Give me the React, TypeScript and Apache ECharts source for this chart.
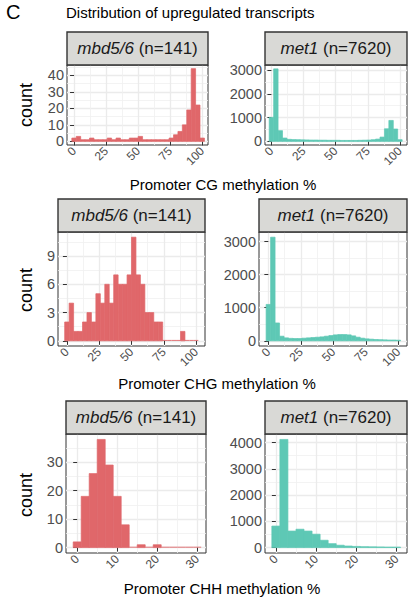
import React, { useEffect, useRef } from "react";
import * as echarts from "echarts";

const FONT = "'Liberation Sans', Arial, Helvetica, sans-serif";
const RED = "#E0676A";
const TEAL = "#5EC8B5";

// ---- bins ----
const pctBinCenters = [
  0, 3.448, 6.897, 10.345, 13.793, 17.241, 20.69, 24.138, 27.586, 31.034,
  34.483, 37.931, 41.379, 44.828, 48.276, 51.724, 55.172, 58.621, 62.069, 65.517,
  68.966, 72.414, 75.862, 79.31, 82.759, 86.207, 89.655, 93.103, 96.552, 100,
];
const pctBinWidth = 3.448;
const chhBinCenters = [0, 2, 4, 6, 8, 10, 12, 14, 16, 18, 20, 22, 24, 26, 28, 30];
const chhBinWidth = 2;

// ---- counts ----
const mbdCG = [2, 3, 1, 1, 2, 1, 1, 1, 2, 1, 2, 1, 1, 2, 2, 3, 1, 1, 1, 1, 1, 1, 2, 4, 6, 10, 19, 44, 22, 2];
const met1CG = [1010, 3050, 450, 140, 85, 75, 70, 65, 60, 55, 55, 50, 50, 45, 45, 45, 40, 40, 40, 40, 45, 50, 55, 70, 95, 180, 530, 880, 520, 70];
const mbdCHG = [2, 4, 1, 1, 2, 3, 2, 5, 4, 6, 4, 7, 6, 6, 7, 11, 7, 6, 3, 3, 2, 2, 0, 0, 0, 0, 1, 0, 0, 0];
const met1CHG = [1100, 3130, 540, 140, 90, 75, 70, 70, 80, 90, 100, 110, 120, 140, 160, 180, 190, 190, 180, 150, 110, 80, 60, 50, 40, 35, 30, 25, 25, 20];
const mbdCHH = [2, 18, 26, 38, 29, 18, 8, 0, 1, 0, 1, 0, 0, 0, 0, 0];
const met1CHH = [820, 4120, 630, 700, 630, 510, 280, 150, 90, 60, 45, 35, 30, 25, 20, 20];

// ---- ticks ----
const pctTicks = [0, 25, 50, 75, 100];
const pctMinor = [12.5, 37.5, 62.5, 87.5];
const chhTicks = [0, 10, 20, 30];
const chhMinor = [5, 15, 25];
const mbdCGTicks = [0, 10, 20, 30, 40];
const mbdCGMinor = [5, 15, 25, 35, 45];
const mbdCHGTicks = [0, 3, 6, 9];
const mbdCHGMinor = [1.5, 4.5, 7.5, 10.5];
const mbdCHHTicks = [0, 10, 20, 30];
const mbdCHHMinor = [5, 15, 25, 35];
const met1Ticks3 = [0, 1000, 2000, 3000];
const met1Minor3 = [500, 1500, 2500];
const met1Ticks4 = [0, 1000, 2000, 3000, 4000];
const met1Minor4 = [500, 1500, 2500, 3500];

const stripLabels = ["mbd5/6", "met1", "mbd5/6", "met1", "mbd5/6", "met1"];
const stripN = [141, 7620, 141, 7620, 141, 7620];
const xTitles = ["Promoter CG methylation %", "Promoter CHG methylation %", "Promoter CHH methylation %"];

const panelData = [
  { centers: pctBinCenters, w: pctBinWidth, counts: mbdCG, xTicks: pctTicks, xMinor: pctMinor, yTicks: mbdCGTicks, yMinor: mbdCGMinor },
  { centers: pctBinCenters, w: pctBinWidth, counts: met1CG, xTicks: pctTicks, xMinor: pctMinor, yTicks: met1Ticks3, yMinor: met1Minor3 },
  { centers: pctBinCenters, w: pctBinWidth, counts: mbdCHG, xTicks: pctTicks, xMinor: pctMinor, yTicks: mbdCHGTicks, yMinor: mbdCHGMinor },
  { centers: pctBinCenters, w: pctBinWidth, counts: met1CHG, xTicks: pctTicks, xMinor: pctMinor, yTicks: met1Ticks3, yMinor: met1Minor3 },
  { centers: chhBinCenters, w: chhBinWidth, counts: mbdCHH, xTicks: chhTicks, xMinor: chhMinor, yTicks: mbdCHHTicks, yMinor: mbdCHHMinor },
  { centers: chhBinCenters, w: chhBinWidth, counts: met1CHH, xTicks: chhTicks, xMinor: chhMinor, yTicks: met1Ticks4, yMinor: met1Minor4 },
];

// layout (pixels) and axis extents
const panelLayout = [
  { left: 67, top: 65, width: 141, height: 80, xMin: -5.5, xMax: 104.5, yMin: -2.2, yMax: 46.2, color: RED },
  { left: 265, top: 65, width: 142, height: 80, xMin: -5, xMax: 105.5, yMin: -153, yMax: 3213, color: TEAL },
  { left: 58, top: 232, width: 147, height: 114, xMin: -6.9, xMax: 106.9, yMin: -0.55, yMax: 11.55, color: RED },
  { left: 259, top: 232, width: 148, height: 114, xMin: -7.2, xMax: 106.7, yMin: -156, yMax: 3287, color: TEAL },
  { left: 66, top: 434, width: 140, height: 119, xMin: -2.8, xMax: 32.2, yMin: -1.9, yMax: 39.9, color: RED },
  { left: 265, top: 434, width: 142, height: 119, xMin: -2.7, xMax: 32.6, yMin: -206, yMax: 4326, color: TEAL },
];

const STRIP_H = 33;

function buildOption() {
  const grid: any[] = [];
  const xAxis: any[] = [];
  const yAxis: any[] = [];
  const series: any[] = [];
  const graphic: any[] = [];
  const plain = (v: number) => String(v);

  panelLayout.forEach((L, i) => {
    const D = panelData[i];
    grid.push({
      left: L.left, top: L.top, width: L.width, height: L.height,
      show: true, borderColor: "#333333", borderWidth: 1, backgroundColor: "#ffffff",
      containLabel: false,
    });
    xAxis.push({
      gridIndex: i, type: "value", min: L.xMin, max: L.xMax, position: "bottom",
      axisLine: { show: false },
      axisTick: { show: true, customValues: D.xTicks, length: 4, lineStyle: { color: "#333333", width: 1 } },
      axisLabel: { customValues: D.xTicks, rotate: 45, fontSize: 12, color: "#4D4D4D", margin: 4, fontFamily: FONT, formatter: plain },
      splitLine: { show: true, lineStyle: { color: "#EBEBEB", width: 1.3 } },
    });
    xAxis.push({
      gridIndex: i, type: "value", min: L.xMin, max: L.xMax, position: "top",
      axisLine: { show: false },
      axisTick: { show: false, customValues: D.xMinor },
      axisLabel: { show: false, customValues: D.xMinor },
      splitLine: { show: true, lineStyle: { color: "#F0F0F0", width: 0.8 } },
    });
    yAxis.push({
      gridIndex: i, type: "value", min: L.yMin, max: L.yMax, position: "left",
      axisLine: { show: false },
      axisTick: { show: true, customValues: D.yTicks, length: 4, lineStyle: { color: "#333333", width: 1 } },
      axisLabel: { customValues: D.yTicks, fontSize: 14.5, color: "#4D4D4D", margin: 3, fontFamily: FONT, formatter: plain },
      splitLine: { show: true, lineStyle: { color: "#EBEBEB", width: 1.3 } },
    });
    yAxis.push({
      gridIndex: i, type: "value", min: L.yMin, max: L.yMax, position: "right",
      axisLine: { show: false },
      axisTick: { show: false, customValues: D.yMinor },
      axisLabel: { show: false, customValues: D.yMinor },
      splitLine: { show: true, lineStyle: { color: "#F0F0F0", width: 0.8 } },
    });
    const data = D.centers.map((c, k) => [c - D.w / 2, c + D.w / 2, D.counts[k]]);
    const color = L.color;
    series.push({
      type: "custom",
      xAxisIndex: 2 * i,
      yAxisIndex: 2 * i,
      clip: true,
      encode: { x: [0, 1], y: 2 },
      data,
      renderItem: (_params: any, api: any) => {
        const lo = api.value(0) as number;
        const hi = api.value(1) as number;
        const c = api.value(2) as number;
        const tl = api.coord([lo, c]);
        const br = api.coord([hi, 0]);
        if (c === 0) {
          return {
            type: "line",
            shape: { x1: tl[0], y1: br[1] - 0.4, x2: br[0], y2: br[1] - 0.4 },
            style: { stroke: color, lineWidth: 0.9 },
          };
        }
        return {
          type: "rect",
          shape: { x: tl[0], y: tl[1], width: br[0] - tl[0], height: br[1] - tl[1] },
          style: { fill: color, stroke: color, lineWidth: 0.7 },
        };
      },
    });
    // strip
    graphic.push({
      type: "rect",
      shape: { x: L.left, y: L.top - STRIP_H, width: L.width, height: STRIP_H },
      style: { fill: "#D9D9D6", stroke: "#333333", lineWidth: 1.4 },
      z: 10,
    });
    graphic.push({
      type: "text",
      x: L.left + L.width / 2,
      y: L.top - STRIP_H / 2,
      style: {
        text: `{i|${stripLabels[i]}} (n=${stripN[i]})`,
        rich: { i: { fontStyle: "italic", fontSize: 17, fontFamily: FONT, fill: "#1A1A1A" } },
        fontSize: 17,
        fontFamily: FONT,
        fill: "#1A1A1A",
        align: "center",
        verticalAlign: "middle",
      },
      z: 11,
    });
  });

  // headings
  graphic.push({
    type: "text", x: 6, y: 12,
    style: { text: "C", fontSize: 20, fontFamily: FONT, fill: "#000", verticalAlign: "middle" },
  });
  graphic.push({
    type: "text", x: 66, y: 12,
    style: { text: "Distribution of upregulated transcripts", fontSize: 15, fontFamily: FONT, fill: "#000", verticalAlign: "middle" },
  });
  const xTitlePos = [[223, 184], [217, 383], [222, 588]];
  xTitles.forEach((t, r) => {
    graphic.push({
      type: "text", x: xTitlePos[r][0], y: xTitlePos[r][1],
      style: { text: t, fontSize: 15, fontFamily: FONT, fill: "#000", align: "center", verticalAlign: "middle" },
    });
  });
  const countPos = [[26, 105], [26, 290], [26, 495]];
  countPos.forEach((p) => {
    graphic.push({
      type: "text", x: p[0], y: p[1], rotation: Math.PI / 2,
      style: { text: "count", fontSize: 18, fontFamily: FONT, fill: "#000", align: "center", verticalAlign: "middle" },
    });
  });

  return {
    animation: false,
    backgroundColor: "#ffffff",
    grid, xAxis, yAxis, series, graphic,
  };
}

export default function App() {
  const ref = useRef<HTMLDivElement>(null);
  useEffect(() => {
    if (!ref.current) return;
    const chart = echarts.init(ref.current, undefined, { renderer: "svg" });
    chart.setOption(buildOption() as any);
    return () => chart.dispose();
  }, []);
  return (
    <div
      ref={ref}
      style={{ position: "fixed", left: 0, top: 0, width: 417, height: 603, background: "#fff" }}
    />
  );
}
